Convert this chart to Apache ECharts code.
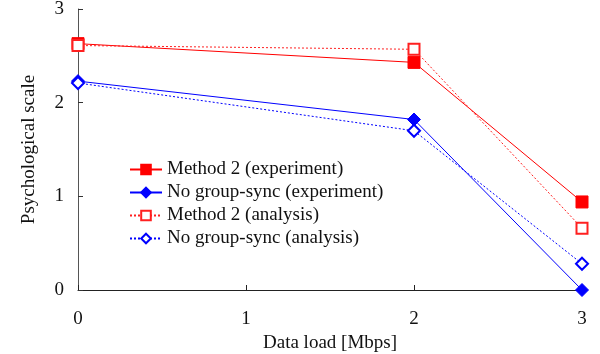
<!DOCTYPE html>
<html><head><meta charset="utf-8">
<script src="https://cdn.jsdelivr.net/npm/echarts@6/dist/echarts.min.js"></script>
<style>html,body{margin:0;padding:0;background:#fff}#c{width:600px;height:354px}</style>
</head><body><div id="c"></div>
<script>
const xValues = [0, 2, 3];
const method2Exp = [2.63, 2.43, 0.94];
const noSyncExp = [2.23, 1.82, 0.0];
const method2Ana = [2.61, 2.57, 0.66];
const noSyncAna = [2.21, 1.70, 0.28];
const seriesNames = ['Method 2 (experiment)', 'No group-sync (experiment)', 'Method 2 (analysis)', 'No group-sync (analysis)'];
const xTicks = [0, 1, 2, 3];
const yTicks = [0, 1, 2, 3];

const pairs = ys => xValues.map((x, i) => [x, ys[i]]);
const font = "'Liberation Serif', 'Times New Roman', 'DejaVu Serif', serif";
const chart = echarts.init(document.getElementById('c'), null, {renderer: 'canvas'});
function mk(name, ys, color, symbol, dashed, size) {
  return {
    name, type: 'line', data: pairs(ys), symbol, symbolSize: size,
    showAllSymbol: true,
    lineStyle: {color, width: 1, type: dashed ? [2, 2] : 'solid'},
    itemStyle: {color, borderColor: color, borderWidth: 1},
    emphasis: {disabled: true}, animation: false
  };
}
chart.setOption({
  animation: false,
  backgroundColor: '#fff',
  textStyle: {fontFamily: font},
  grid: {left: 78, right: 18, top: 9, bottom: 64, containLabel: false, outerBoundsMode: 'none'},
  xAxis: {
    type: 'value', min: 0, max: 3, interval: 1,
    name: 'Data load [Mbps]', nameLocation: 'middle', nameGap: 41,
    nameTextStyle: {fontFamily: font, fontSize: 19, color: '#111'},
    axisLine: {lineStyle: {color: '#222', width: 1}},
    axisTick: {inside: true, length: 5, lineStyle: {color: '#222'}},
    axisLabel: {fontFamily: font, fontSize: 19, color: '#111', margin: 20,
      formatter: v => xTicks.includes(v) ? String(v) : ''},
    splitLine: {show: false}
  },
  yAxis: {
    type: 'value', min: 0, max: 3, interval: 1,
    name: 'Psychological scale', nameLocation: 'middle', nameGap: 39,
    nameTextStyle: {fontFamily: font, fontSize: 19, color: '#111'},
    axisLine: {show: true, lineStyle: {color: '#555', width: 1}},
    axisTick: {show: true, inside: true, length: 5, lineStyle: {color: '#333'}},
    axisLabel: {fontFamily: font, fontSize: 19, color: '#111', margin: 14,
      formatter: v => yTicks.includes(v) ? String(v) : ''},
    splitLine: {show: false}
  },
  legend: {
    orient: 'vertical', left: 124, top: 155, itemGap: 4, padding: 5,
    itemWidth: 32, itemHeight: 12,
    textStyle: {fontFamily: font, fontSize: 19, color: '#111'},
    data: seriesNames
  },
  series: [
    mk(seriesNames[0], method2Exp, '#ff0000', 'rect', false, 12),
    mk(seriesNames[1], noSyncExp, '#0000ff', 'diamond', false, 13),
    mk(seriesNames[2], method2Ana, '#ff2020', 'emptyRect', true, 11),
    mk(seriesNames[3], noSyncAna, '#0000ff', 'emptyDiamond', true, 12)
  ]
});
</script></body></html>
